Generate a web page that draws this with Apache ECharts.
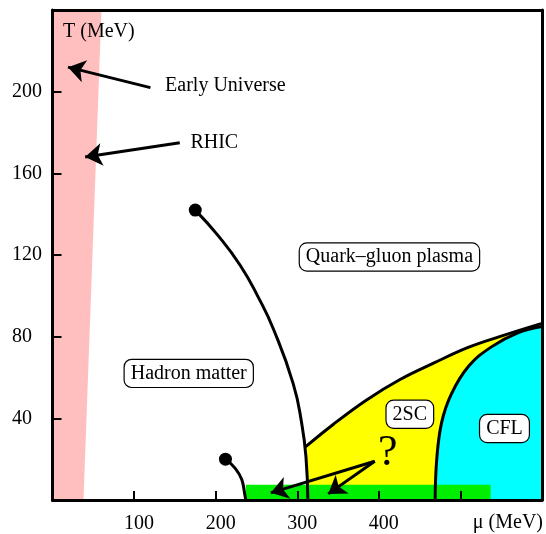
<!DOCTYPE html>
<html><head><meta charset="utf-8">
<script src="https://cdn.jsdelivr.net/npm/echarts@6/dist/echarts.min.js"></script>
<style>html,body{margin:0;padding:0;background:#fff}#c{width:546px;height:534px}</style>
</head><body><div id="c"></div>
<script>
const FONT = "'Liberation Serif','Times New Roman',serif";
// ticks (MeV)
const xTickLabels = [100, 200, 300, 400];
const yTickLabels = [40, 80, 120, 160, 200];
// regions & lines, [mu (MeV), T (MeV)]
const pinkBand = [[0, 0], [38, 0], [60, 240], [0, 240]];
const deconfinementLine = [[175, 142], [203, 129.5], [230, 115], [252, 99.5], [271, 83.5], [295, 57], [305.5, 37.5], [310.7, 21], [313, 0]];
const liquidGasLine = [[212, 20], [224, 15.5], [232, 10], [236, 2], [237, 0]];
const criticalPoints = [[175, 142], [212, 20]];
const colorSuperLine = [[310, 26], [344, 37], [385, 49], [426, 59], [467, 67], [508, 74.5], [548, 80], [600, 86.5]];
const cflLine = [[469, 0], [471, 20], [477, 38], [489, 52], [510, 65.5], [538, 75], [571, 82], [600, 85]];
const greenBand = [[237, 0], [537, 0], [537, 7.5], [237, 7.5]];
// annotations
const boxedLabels = [[413, 119, 'Quark–gluon plasma'], [167, 62, 'Hadron matter'], [438, 42, '2SC'], [554, 35, 'CFL']];
const plainLabels = [[138, 203, 'Early Universe'], [169, 175, 'RHIC']];
const questionLabel = [[411, 23, '?']];
const arrows = [
  [[120, 202], [19, 212]],
  [[156, 175], [40, 168]],
  [[395, 19], [267.6, 3.5]],
  [[395, 19], [338, 3]]
];

const yellowRegion = colorSuperLine.concat(cflLine.slice().reverse(), [[313, 0], [310.7, 21]]);
const cyanRegion = cflLine.concat([[600, 0]]);

function polygonSeries(points, color, z) {
  return {
    type: 'custom', z: z, silent: true, data: [[0, 0]],
    renderItem: function (params, api) {
      return { type: 'polygon', shape: { points: points.map(p => api.coord(p)) }, style: { fill: color } };
    }
  };
}
function curveSeries(points, smooth) {
  return {
    type: 'line', data: points, z: 4, silent: true, symbol: 'none', smooth: smooth,
    lineStyle: { color: '#000', width: 3 }
  };
}
function labelSeries(data, label) {
  return {
    type: 'scatter', data: data, z: 7, silent: true, symbolSize: 0,
    itemStyle: { opacity: 1 },
    label: Object.assign({ show: true, position: 'inside', formatter: p => p.data[2], color: '#000', fontFamily: FONT, fontSize: 20 }, label)
  };
}

const chart = echarts.init(document.getElementById('c'), null, { renderer: 'canvas' });
const axisLineStyle = { color: '#000', width: 3 };
chart.setOption({
  animation: false,
  backgroundColor: '#fff',
  grid: { left: 52.5, right: 4, top: 10, bottom: 34, containLabel: false, outerBoundsMode: 'none' },
  xAxis: [{
    type: 'value', min: 0, max: 600, interval: 100, z: 10,
    splitLine: { show: false },
    axisLine: { show: true, onZero: false, lineStyle: axisLineStyle },
    axisTick: { show: true, inside: true, length: 9, lineStyle: { color: '#000', width: 2 } },
    axisLabel: {
      show: true, margin: 14, color: '#000', fontSize: 20, fontFamily: FONT, padding: [0, 0, 0, 10],
      showMinLabel: true, showMaxLabel: true,
      formatter: v => xTickLabels.includes(v) ? String(v) : ''
    },
    name: 'μ (MeV)', nameLocation: 'end', nameGap: 1,
    nameTextStyle: { color: '#000', fontSize: 20, fontFamily: FONT, align: 'right', verticalAlign: 'top', padding: [13, 0, 0, 0] }
  }, {
    type: 'value', min: 0, max: 600, position: 'top', z: 10,
    splitLine: { show: false }, axisTick: { show: false }, axisLabel: { show: false },
    axisLine: { show: true, onZero: false, lineStyle: axisLineStyle }
  }],
  yAxis: [{
    type: 'value', min: 0, max: 240, interval: 40, z: 10,
    splitLine: { show: false },
    axisLine: { show: true, onZero: false, lineStyle: axisLineStyle },
    axisTick: { show: true, inside: true, length: 9, lineStyle: { color: '#000', width: 2 } },
    axisLabel: {
      show: true, margin: 40.5, align: 'left', color: '#000', fontSize: 20, fontFamily: FONT,
      formatter: v => yTickLabels.includes(v) ? String(v) : ''
    },
    name: 'T (MeV)', nameLocation: 'end', nameGap: -22,
    nameTextStyle: { color: '#000', fontSize: 20, fontFamily: FONT, align: 'left', verticalAlign: 'middle', padding: [0, 0, 0, 10.5] }
  }, {
    type: 'value', min: 0, max: 240, position: 'right', z: 10,
    splitLine: { show: false }, axisTick: { show: false }, axisLabel: { show: false },
    axisLine: { show: true, onZero: false, lineStyle: axisLineStyle }
  }],
  series: [
    polygonSeries(pinkBand, '#ffbfbf', 1),
    polygonSeries(yellowRegion, '#ffff00', 1),
    polygonSeries(cyanRegion, '#00ffff', 1),
    polygonSeries(greenBand, '#00ee00', 2),
    curveSeries(deconfinementLine, 0.5),
    curveSeries(liquidGasLine, 0.4),
    curveSeries(colorSuperLine, 0.4),
    curveSeries(cflLine, 0.4),
    {
      type: 'scatter', data: criticalPoints, z: 5, silent: true,
      symbol: 'circle', symbolSize: 13, itemStyle: { color: '#000', opacity: 1 }
    },
    {
      type: 'lines', coordinateSystem: 'cartesian2d', z: 6, silent: true,
      symbol: ['none', 'arrow'], symbolSize: [12, 17],
      lineStyle: { color: '#000', width: 3, opacity: 1 },
      data: arrows.map(a => ({ coords: a }))
    },
    labelSeries(boxedLabels, {
      backgroundColor: '#fff', borderColor: '#000', borderWidth: 1.2, borderRadius: 7, padding: [4, 6, 3, 6]
    }),
    labelSeries(plainLabels, { align: 'left' }),
    labelSeries(questionLabel, { fontSize: 44 })
  ]
});
</script>
</body></html>
